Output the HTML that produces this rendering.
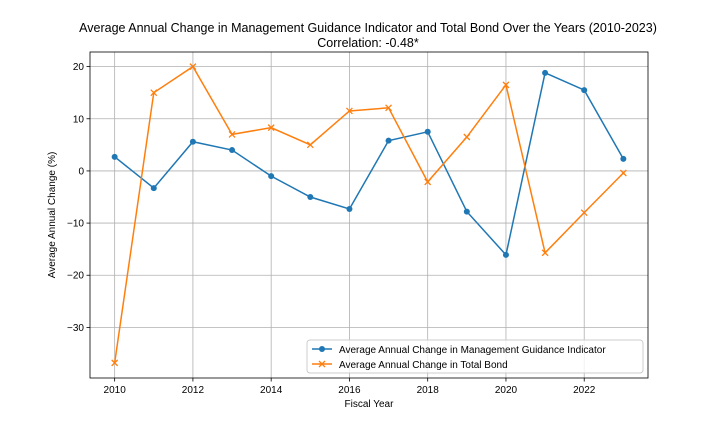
<!DOCTYPE html>
<html><head><meta charset="utf-8"><style>
body{margin:0;background:#fff;}
svg{display:block;font-family:"Liberation Sans","DejaVu Sans",sans-serif;}
</style></head><body>
<svg id="chart" width="720" height="432">
<text x="368" y="32" text-anchor="middle" font-size="12.5">Average Annual Change in Management Guidance Indicator and Total Bond Over the Years (2010-2023)</text>
<text x="368" y="47" text-anchor="middle" font-size="12.5">Correlation: -0.48*</text>
<g id="grid"></g><g id="axes"></g><g id="series"></g>
<text x="369" y="407" text-anchor="middle" font-size="10">Fiscal Year</text>
<text transform="translate(55,215) rotate(-90)" text-anchor="middle" font-size="10">Average Annual Change (%)</text>
<g>
<rect x="307" y="340" width="336" height="33" rx="3" fill="#fff" fill-opacity="0.8" stroke="#ccc"/>
<g>
<line x1="312" y1="349" x2="332" y2="349" stroke="#1f77b4" stroke-width="1.5"/><circle cx="322" cy="349" r="3" fill="#1f77b4"/>
<text x="339" y="353" font-size="10">Average Annual Change in Management Guidance Indicator</text></g>
<g>
<line x1="312" y1="364" x2="332" y2="364" stroke="#ff7f0e" stroke-width="1.5"/><path d="M319,361l6,6M325,361l-6,6" stroke="#ff7f0e" stroke-width="1.3"/>
<text x="339" y="368" font-size="10">Average Annual Change in Total Bond</text></g>
</g>
</svg>
<script>
const years=[2010,2011,2012,2013,2014,2015,2016,2017,2018,2019,2020,2021,2022,2023];
const guidance=[2.7,-3.3,5.6,4.0,-1.0,-5.0,-7.3,5.8,7.5,-7.8,-16.1,18.8,15.5,2.3];
const bond=[-36.8,15.0,20.0,7.0,8.3,5.0,11.5,12.1,-2.1,6.5,16.5,-15.7,-8.0,-0.4];
const xTicks=[2010,2012,2014,2016,2018,2020,2022];
const yTicks=[-30,-20,-10,0,10,20];
const NS="http://www.w3.org/2000/svg";
const L=90,R=648,T=52,B=378,x0=2009.37,x1=2023.63,y0=-39.7,y1=22.8;
const sx=v=>L+(v-x0)/(x1-x0)*(R-L);
const sy=v=>B-(v-y0)/(y1-y0)*(B-T);
function mk(tag,attrs,parent){const e=document.createElementNS(NS,tag);for(const k in attrs)e.setAttribute(k,attrs[k]);parent.appendChild(e);return e;}
const grid=document.getElementById('grid'),axes=document.getElementById('axes'),ser=document.getElementById('series');
xTicks.forEach(t=>{const x=sx(t);
 const g=mk('line',{x1:x,x2:x,y1:T,y2:B,stroke:'#b0b0b0','stroke-width':0.8},grid);
 
 
 mk('line',{x1:x,x2:x,y1:B,y2:B+3.5,stroke:'#000','stroke-width':0.8},axes);
 const tx=mk('text',{x:x,y:B+15,'text-anchor':'middle','font-size':10},axes);tx.textContent=t;
 
 });
yTicks.forEach(t=>{const y=sy(t);
 const g=mk('line',{x1:L,x2:R,y1:y,y2:y,stroke:'#b0b0b0','stroke-width':0.8},grid);
 
 
 mk('line',{x1:L-3.5,x2:L,y1:y,y2:y,stroke:'#000','stroke-width':0.8},axes);
 const tx=mk('text',{x:L-6,y:y+3.5,'text-anchor':'end','font-size':10},axes);tx.textContent=(t<0?'\u2212'+(-t):t);
 
 });
const frame=mk('rect',{x:L,y:T,width:R-L,height:B-T,fill:'none',stroke:'#000','stroke-width':0.8},axes);


function line(vals,color,name,marker){
 const p=mk('polyline',{points:vals.map((v,i)=>sx(years[i])+','+sy(v)).join(' '),fill:'none',stroke:color,'stroke-width':1.5},ser);
 
 
 vals.forEach((v,i)=>{const x=sx(years[i]),y=sy(v);let m;
  if(marker==='o')m=mk('circle',{cx:x,cy:y,r:3,fill:color},ser);
  else m=mk('path',{d:`M${x-3},${y-3}l6,6M${x+3},${y-3}l-6,6`,stroke:color,'stroke-width':1.3},ser);
  
  });
}
line(guidance,'#1f77b4','guidance','o');
line(bond,'#ff7f0e','bond','x');
</script>
</body></html>
